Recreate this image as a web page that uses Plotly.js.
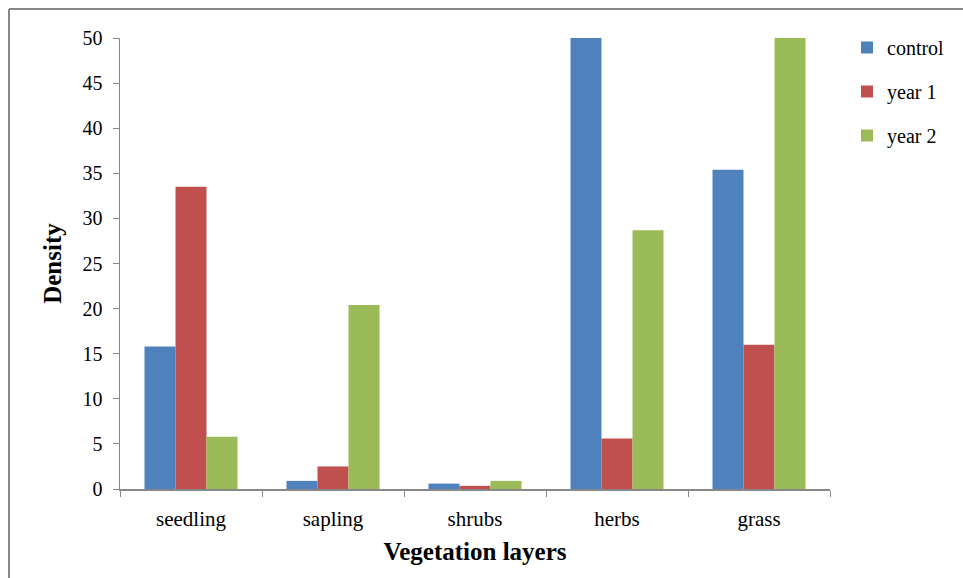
<!DOCTYPE html>
<html>
<head>
<meta charset="utf-8">
<script src="https://cdn.plot.ly/plotly-3.0.1.min.js"></script>
<style>html,body{margin:0;padding:0;background:#fff;}#chart{width:963px;height:578px;}</style>
</head>
<body>
<div id="chart"></div>
<script>
const categories = ["seedling", "sapling", "shrubs", "herbs", "grass"];
const control = [15.8, 0.9, 0.6, 50, 35.4];
const year1 = [33.5, 2.5, 0.35, 5.6, 16.0];
const year2 = [5.8, 20.4, 0.9, 28.7, 50];
const seriesNames = ["control", "year 1", "year 2"];
const colors = ["#4F81BD", "#C0504D", "#9BBB59"];
const yTicks = [0, 5, 10, 15, 20, 25, 30, 35, 40, 45, 50];

const serif = "Liberation Serif, Times New Roman, serif";
const allSeries = [control, year1, year2];
const traces = allSeries.map((vals, i) => ({
  type: "bar",
  name: seriesNames[i],
  x: categories,
  y: vals,
  marker: {color: colors[i], line: {width: 0}},
  legendgroup: "g" + i,
  hoverinfo: "x+y+name"
}));

const L = 120, R = 830, T = 38, B = 489, W = 963, H = 578;
const px = v => (v - L) / (R - L);
const py = v => (B - v) / (B - T);

const layout = {
  width: W, height: H,
  margin: {l: L, r: W - R, t: T, b: H - B, pad: 0},
  paper_bgcolor: "#fff",
  plot_bgcolor: "#fff",
  barmode: "group",
  bargap: 0.345,
  bargroupgap: 0,
  font: {family: serif, color: "#000", size: 20},
  xaxis: {
    type: "category",
    tickson: "boundaries",
    ticks: "outside",
    ticklen: 6,
    tickcolor: "#888",
    showline: true,
    linecolor: "#888",
    linewidth: 1.5,
    showgrid: false,
    zeroline: false,
    ticklabelstandoff: 10,
    tickfont: {family: serif, size: 21, color: "#000"},
    title: {text: "<b>Vegetation layers</b>", font: {family: serif, size: 25, color: "#000"}, standoff: 13}
  },
  yaxis: {
    range: [0, 50],
    tickvals: yTicks,
    ticktext: yTicks.map(String),
    ticks: "outside",
    ticklen: 6,
    tickcolor: "#888",
    showline: true,
    linecolor: "#888",
    linewidth: 1.5,
    showgrid: false,
    zeroline: false,
    ticklabelstandoff: 6,
    tickfont: {family: serif, size: 20, color: "#000"},
    title: {text: "<b>Density</b>", font: {family: serif, size: 25, color: "#000"}, standoff: 14}
  },
  legend: {
    x: px(847), y: py(28), xanchor: "left", yanchor: "top",
    font: {family: serif, size: 20, color: "#000"},
    traceorder: "grouped",
    tracegroupgap: 15,
    itemwidth: 30,
    bgcolor: "rgba(0,0,0,0)"
  },
  shapes: [
    {type: "line", xref: "paper", yref: "paper", x0: px(9), x1: px(9), y0: py(9), y1: py(580), line: {color: "#888", width: 2}},
    {type: "line", xref: "paper", yref: "paper", x0: px(9), x1: px(965), y0: py(9), y1: py(9), line: {color: "#888", width: 2}}
  ],
  showlegend: true
};

Plotly.newPlot("chart", traces, layout, {displayModeBar: false, staticPlot: true});
</script>
</body>
</html>
